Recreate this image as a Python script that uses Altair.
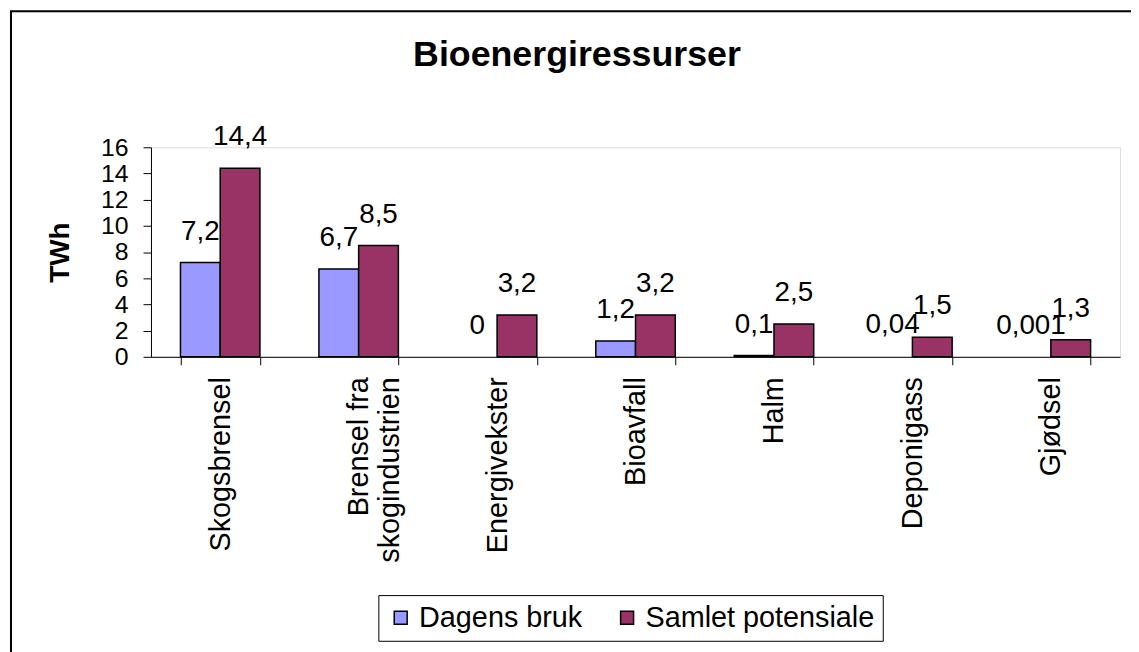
import altair as alt
import pandas as pd

categories = ["Skogsbrensel", "Brensel fra|skogindustrien", "Energivekster",
              "Bioavfall", "Halm", "Deponigass", "Gjødsel"]
series = ["Dagens bruk", "Samlet potensiale"]
dagens_bruk = [7.2, 6.7, 0, 1.2, 0.1, 0.04, 0.001]
samlet_potensiale = [14.4, 8.5, 3.2, 3.2, 2.5, 1.5, 1.3]
colors = ["#9999FF", "#993366"]
y_ticks = [0, 2, 4, 6, 8, 10, 12, 14, 16]
title_text = "Bioenergiressurser"

rows = []
for c, a, b in zip(categories, dagens_bruk, samlet_potensiale):
    rows.append({"kategori": c, "serie": series[0], "verdi": a})
    rows.append({"kategori": c, "serie": series[1], "verdi": b})
df = pd.DataFrame(rows)

FONT = "Liberation Sans"
W, H = 976, 211

x_enc = alt.X("kategori:N", sort=categories, title=None,
              scale=alt.Scale(paddingInner=0.426, paddingOuter=0.213),
              axis=alt.Axis(labelAngle=270, labelFontSize=29, labelFont=FONT,
                            labelColor="black", labelAlign="right", labelBaseline="middle",
                            labelExpr="split(datum.label, '|')", labelLineHeight=31,
                            labelPadding=12, tickBand="extent", tickSize=8,
                            tickColor="black", domainColor="black", domainWidth=1,
                            labelLimit=400, labelOverlap=False))
xo_enc = alt.XOffset("serie:N", sort=series, scale=alt.Scale(paddingInner=0, paddingOuter=0))
y_enc = alt.Y("verdi:Q", title="TWh",
              scale=alt.Scale(domain=[0, 16], nice=False),
              axis=alt.Axis(values=y_ticks, labelFontSize=25, labelFont=FONT,
                            labelColor="black", labelPadding=15, tickSize=8,
                            tickColor="black", domainColor="black", grid=False,
                            labelOverlap=False, labelBound=False,
                            titleFontSize=28, titleFont=FONT, titleFontWeight="bold",
                            titleColor="black", titlePadding=26))

base = alt.Chart(df)

bars = base.mark_bar(stroke="black").encode(
    x=x_enc,
    xOffset=xo_enc,
    y=y_enc,
    color=alt.Color("serie:N", sort=series,
                    scale=alt.Scale(domain=series, range=colors),
                    legend=alt.Legend(title=None, orient="none", legendX=229, legendY=451,
                                      direction="horizontal", labelFontSize=29,
                                      labelFont=FONT, labelColor="black", labelLimit=500,
                                      symbolType="square", symbolSize=170,
                                      symbolStrokeColor="black", symbolStrokeWidth=1.5,
                                      strokeColor="black", padding=8,
                                      columnPadding=30, labelOffset=4,
                                      fillColor="white")),
    strokeWidth=alt.condition(alt.datum.verdi > 0.05, alt.value(1.5), alt.value(0)),
    opacity=alt.condition(alt.datum.verdi > 0.05, alt.value(1), alt.value(0)),
)

labels = base.transform_calculate(
    tekst="replace(toString(datum.verdi), '.', ',')"
).mark_text(baseline="alphabetic", dy=-23, fontSize=28, font=FONT, color="black").encode(
    x=x_enc,
    xOffset=xo_enc,
    y=y_enc,
    text="tekst:N",
)

deco = alt.Chart(alt.Data(values=[{"t": title_text}]))

border = deco.mark_rect(fill=None, stroke="black", strokeWidth=2).encode(
    x=alt.value(-141), x2=alt.value(1100), y=alt.value(-137), y2=alt.value(700)
)

title = deco.mark_text(fontSize=36, font=FONT, fontWeight="bold", color="black",
                       align="center", baseline="alphabetic").encode(
    x=alt.value(429), y=alt.value(-82), text="t:N"
)

chart = alt.layer(bars, labels, border, title).properties(
    width=W, height=H,
    autosize=alt.AutoSizeParams(type="none"),
    padding={"left": 144, "top": 138, "right": 11, "bottom": 295},
).configure_view(stroke="#808080", strokeWidth=1.5).configure(background="white")

chart.save("out.html", embed_options={"renderer": "svg", "actions": False})
